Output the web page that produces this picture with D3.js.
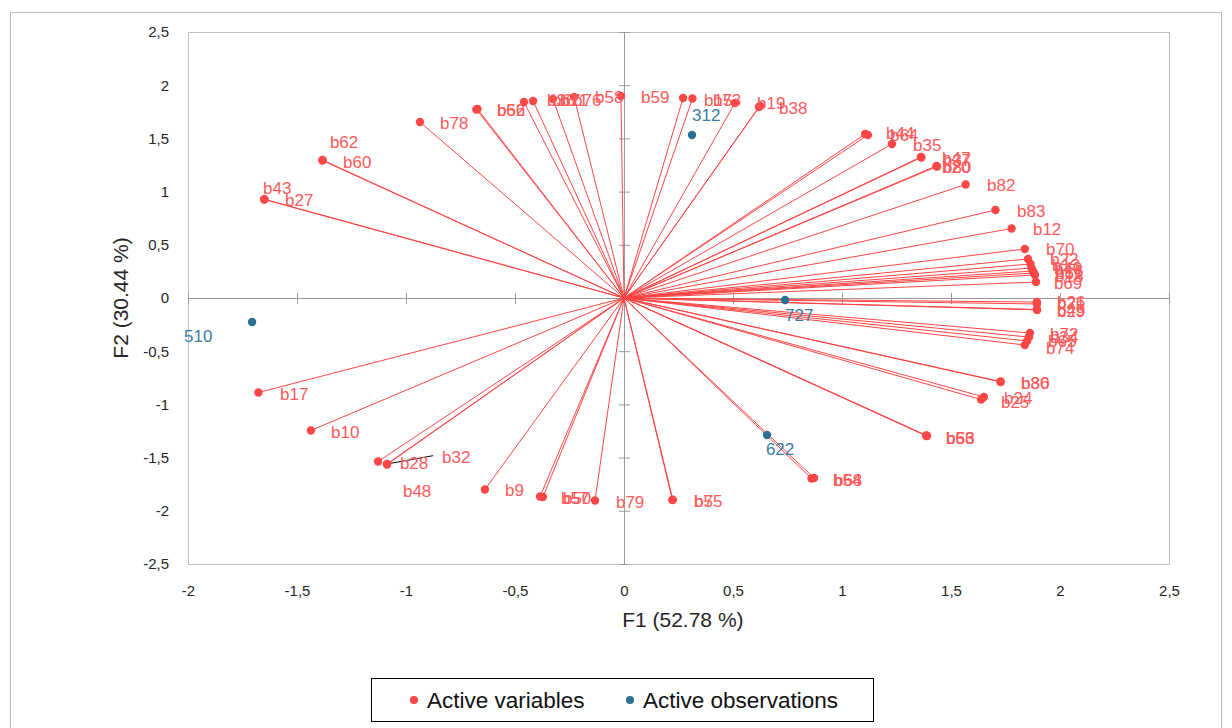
<!DOCTYPE html>
<html>
<head>
<meta charset="utf-8">
<script src="https://cdn.jsdelivr.net/npm/d3@7"></script>
<style>
  body { margin: 0; background: #fff; }
  svg { display: block; font-family: "Liberation Sans", Arial, sans-serif; }
</style>
</head>
<body>
<div id="chart"></div>
<script>
// variables (red) - coordinates on F1/F2 and where XLSTAT put their labels
const varNames = ['b78', 'b66', 'b52', 'b36', 'b67', 'b71', 'b76', 'b58', 'b59', 'b15', 'b73', 'b19', 'b38',
  'b44', 'b64', 'b35', 'b47', 'b37', 'b20', 'b80', 'b82', 'b83', 'b12', 'b70', 'b22', 'b13', 'b40', 'b16', 'b61', 'b18', 'b69',
  'b26', 'b21', 'b29', 'b45', 'b72', 'b34', 'b65', 'b74', 'b86', 'b30', 'b24', 'b25', 'b53', 'b63', 'b56',
  'b54', 'b68', 'b7', 'b55', 'b79', 'b57', 'b50', 'b9', 'b28', 'b48', 'b32', 'b10', 'b17', 'b43', 'b27', 'b62', 'b60'];
const varX = [-0.936, -0.677, -0.672, -0.459, -0.417, -0.326, -0.229, -0.014, 0.271, 0.314, 0.509, 0.619, 0.624,
  1.106, 1.119, 1.229, 1.362, 1.364, 1.433, 1.436, 1.567, 1.704, 1.778, 1.839, 1.853, 1.865, 1.869, 1.876, 1.881, 1.885, 1.890,
  1.894, 1.894, 1.894, 1.895, 1.862, 1.858, 1.849, 1.839, 1.727, 1.728, 1.651, 1.638, 1.388, 1.390, 1.386,
  0.860, 0.872, 0.222, 0.224, -0.133, -0.385, -0.372, -0.638, -1.087, -1.128, -1.087, -1.436, -1.677, -1.651, -1.649, -1.383, -1.383];
const varY = [1.654, 1.772, 1.776, 1.842, 1.852, 1.870, 1.889, 1.898, 1.880, 1.875, 1.833, 1.795, 1.805,
  1.541, 1.532, 1.447, 1.325, 1.321, 1.241, 1.236, 1.067, 0.827, 0.653, 0.461, 0.367, 0.320, 0.282, 0.254, 0.235, 0.216, 0.150,
  -0.038, -0.056, -0.108, -0.112, -0.329, -0.367, -0.404, -0.442, -0.785, -0.789, -0.930, -0.954, -1.297, -1.295, -1.292,
  -1.696, -1.692, -1.898, -1.895, -1.903, -1.866, -1.870, -1.800, -1.565, -1.537, -1.560, -1.245, -0.888, 0.926, 0.928, 1.297, 1.292];
const varLabelX = [-0.844, -0.583, -0.583, -0.353, -0.330, -0.294, -0.234, -0.133, 0.078, 0.367, 0.408, 0.610, 0.711,
  1.202, 1.220, 1.326, 1.459, 1.463, 1.459, 1.463, 1.665, 1.803, 1.876, 1.936, 1.954, 1.963, 1.972, 1.977, 1.977, 1.977, 1.972,
  1.986, 1.986, 1.986, 1.986, 1.954, 1.954, 1.945, 1.936, 1.821, 1.821, 1.743, 1.729, 1.477, 1.477, 1.477,
  0.959, 0.963, 0.321, 0.321, -0.037, -0.289, -0.280, -0.546, -1.028, -1.014, -0.835, -1.344, -1.578, -1.656, -1.555, -1.349, -1.289];
const varLabelY = [1.645, 1.767, 1.767, 1.861, 1.861, 1.861, 1.861, 1.889, 1.889, 1.861, 1.861, 1.833, 1.786,
  1.551, 1.532, 1.438, 1.316, 1.297, 1.231, 1.231, 1.062, 0.818, 0.648, 0.461, 0.367, 0.310, 0.282, 0.254, 0.235, 0.207, 0.141,
  -0.038, -0.047, -0.122, -0.113, -0.338, -0.367, -0.404, -0.470, -0.799, -0.799, -0.940, -0.977, -1.316, -1.316, -1.316,
  -1.711, -1.711, -1.908, -1.908, -1.917, -1.880, -1.880, -1.805, -1.551, -1.814, -1.494, -1.259, -0.902, 1.034, 0.921, 1.466, 1.278];

// observations (blue)
const obsNames = ['312', '510', '727', '622'];
const obsX = [0.312, -1.706, 0.739, 0.656];
const obsY = [1.532, -0.226, -0.019, -1.288];
const obsLabelX = [0.312, -2.018, 0.739, 0.651];
const obsLabelY = [1.720, -0.357, -0.160, -1.419];

// b32 label sits away from its point, joined by a leader line
const leaderName = 'b32';
const leaderEnd = [-0.876, -1.482];

const xTicks = [-2, -1.5, -1, -0.5, 0, 0.5, 1, 1.5, 2, 2.5];
const yTicks = [-2.5, -2, -1.5, -1, -0.5, 0, 0.5, 1, 1.5, 2, 2.5];
const xTitle = 'F1 (52.78 %)';
const yTitle = 'F2 (30.44 %)';
const legendItems = ['Active variables', 'Active observations'];

const W = 1232, H = 728;
const plot = { left: 188, top: 32, right: 1169, bottom: 564 };
const red = '#ff4545', redText = '#ff5a5a', blue = '#2b6f94', blueText = '#3b7ca3';

const svg = d3.select('#chart').append('svg')
  .attr('width', W)
  .attr('height', H);

// chart frame
svg.append('rect')
  .attr('x', 10.5).attr('y', 12.5)
  .attr('width', 1211).attr('height', 730)
  .attr('fill', '#fff').attr('stroke', '#bcbcbc');

const x = d3.scaleLinear().domain([-2, 2.5]).range([plot.left, plot.right]);
const y = d3.scaleLinear().domain([-2.5, 2.5]).range([plot.bottom, plot.top]);

const fmt = d3.formatLocale({ decimal: ',', thousands: '.', grouping: [3], currency: ['', ''], minus: '-' }).format('~g');

svg.append('rect')
  .attr('x', plot.left + 0.5).attr('y', plot.top + 0.5)
  .attr('width', plot.right - plot.left).attr('height', plot.bottom - plot.top)
  .attr('fill', 'none').attr('stroke', '#bfbfbf');

// tick labels
const yAxis = svg.append('g')
  .attr('transform', `translate(${plot.left - 16}, 0)`)
  .call(d3.axisLeft(y).tickValues(yTicks).tickFormat(fmt).tickSize(0));
const xAxis = svg.append('g')
  .attr('transform', `translate(0, ${plot.bottom + 18})`)
  .call(d3.axisBottom(x).tickValues(xTicks).tickFormat(fmt).tickSize(0));
[xAxis, yAxis].forEach(a => {
  a.select('.domain').remove();
  a.selectAll('text').attr('font-size', 15).attr('fill', '#262626')
    .attr('font-family', '"Liberation Sans", Arial, sans-serif');
});

// zero axes with crossing ticks
const axisColor = '#9a9a9a';
svg.append('line')
  .attr('x1', plot.left).attr('x2', plot.right)
  .attr('y1', y(0) + 0.5).attr('y2', y(0) + 0.5)
  .attr('stroke', axisColor);
svg.append('line')
  .attr('x1', x(0) + 0.5).attr('x2', x(0) + 0.5)
  .attr('y1', plot.top).attr('y2', plot.bottom)
  .attr('stroke', axisColor);
svg.append('g').selectAll('line')
  .data(xTicks)
  .enter().append('line')
  .attr('x1', d => x(d) + 0.5).attr('x2', d => x(d) + 0.5)
  .attr('y1', y(0) - 5).attr('y2', y(0) + 6)
  .attr('stroke', axisColor);
svg.append('g').selectAll('line')
  .data(yTicks)
  .enter().append('line')
  .attr('x1', x(0) - 5).attr('x2', x(0) + 6)
  .attr('y1', d => y(d) + 0.5).attr('y2', d => y(d) + 0.5)
  .attr('stroke', axisColor);

// axis titles
svg.append('text')
  .attr('x', x(0.27)).attr('y', 627)
  .attr('text-anchor', 'middle')
  .attr('font-size', 21).attr('fill', '#262626')
  .text(xTitle);
svg.append('text')
  .attr('transform', `translate(128, ${y(0)}) rotate(-90)`)
  .attr('text-anchor', 'middle')
  .attr('font-size', 21).attr('fill', '#262626')
  .text(yTitle);

const vars = varNames.map((n, i) => ({ name: n, x: varX[i], y: varY[i], lx: varLabelX[i], ly: varLabelY[i] }));
const obs = obsNames.map((n, i) => ({ name: n, x: obsX[i], y: obsY[i], lx: obsLabelX[i], ly: obsLabelY[i] }));

const chart = svg.append('g');

// vectors from the origin
chart.selectAll('line.vec')
  .data(vars)
  .enter().append('line')
  .attr('class', 'vec')
  .attr('x1', x(0)).attr('y1', y(0))
  .attr('x2', d => x(d.x)).attr('y2', d => y(d.y))
  .attr('stroke', red).attr('stroke-width', 1);

const lead = vars.find(d => d.name === leaderName);
chart.append('line')
  .attr('x1', x(lead.x)).attr('y1', y(lead.y))
  .attr('x2', x(leaderEnd[0])).attr('y2', y(leaderEnd[1]))
  .attr('stroke', '#000').attr('stroke-width', 1);

chart.selectAll('circle.var')
  .data(vars)
  .enter().append('circle')
  .attr('class', 'var')
  .attr('cx', d => x(d.x)).attr('cy', d => y(d.y))
  .attr('r', 4.2)
  .attr('fill', red);

chart.selectAll('text.var')
  .data(vars)
  .enter().append('text')
  .attr('class', 'var')
  .attr('x', d => x(d.lx)).attr('y', d => y(d.ly))
  .attr('dy', '0.35em')
  .attr('font-size', 17)
  .attr('fill', redText)
  .text(d => d.name);

chart.selectAll('circle.obs')
  .data(obs)
  .enter().append('circle')
  .attr('class', 'obs')
  .attr('cx', d => x(d.x)).attr('cy', d => y(d.y))
  .attr('r', 4.2)
  .attr('fill', blue);

chart.selectAll('text.obs')
  .data(obs)
  .enter().append('text')
  .attr('class', 'obs')
  .attr('x', d => x(d.lx)).attr('y', d => y(d.ly))
  .attr('dy', '0.35em')
  .attr('font-size', 17)
  .attr('fill', blueText)
  .text(d => d.name);

// legend
const legend = svg.append('g');
legend.append('rect')
  .attr('x', 371.5).attr('y', 678.5)
  .attr('width', 502).attr('height', 43)
  .attr('fill', '#fff').attr('stroke', '#000');
const legendColors = [red, blue];
const legendX = [414, 630];
legendItems.forEach((t, i) => {
  legend.append('circle')
    .attr('cx', legendX[i]).attr('cy', 700)
    .attr('r', 4).attr('fill', legendColors[i]);
  legend.append('text')
    .attr('x', legendX[i] + 13).attr('y', 700)
    .attr('dy', '0.35em')
    .attr('font-size', 22.5)
    .attr('fill', '#111')
    .text(t);
});
</script>
</body>
</html>
